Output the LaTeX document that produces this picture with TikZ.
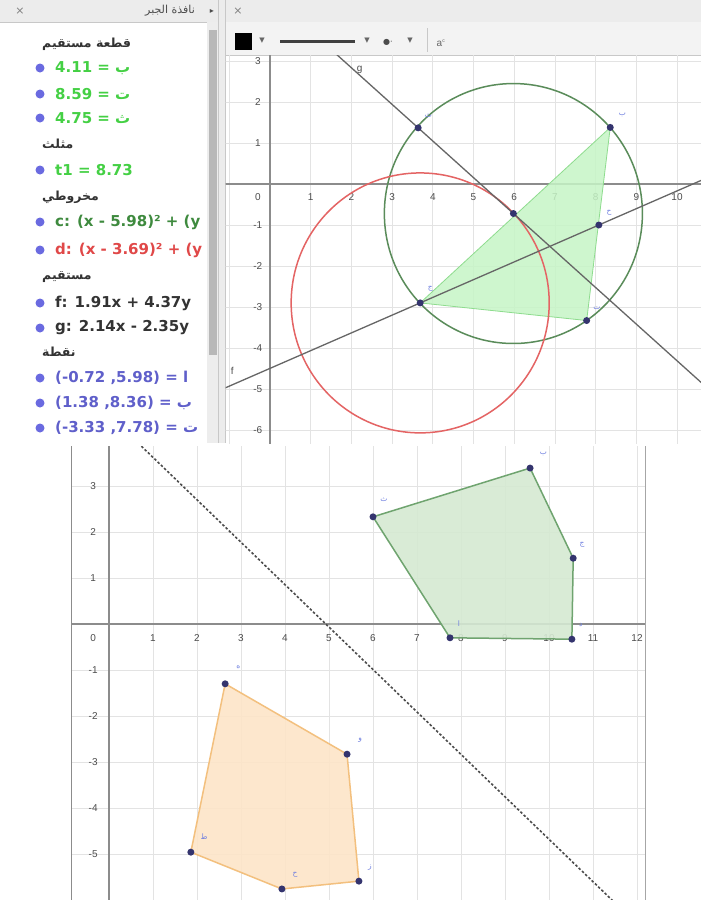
\documentclass[tikz,border=0pt]{standalone}
\usepackage{fontspec}
\setmainfont{Liberation Sans}
\newfontfamily\arabicfont[Script=Arabic]{DejaVu Sans}
\newfontfamily\symfont{DejaVu Sans}
\newfontfamily\itemfont{DejaVu Sans}
\TeXXeTstate=1
\usetikzlibrary{calc}
\definecolor{hdr}{HTML}{ECECEC}
\definecolor{toolbarc}{HTML}{F3F3F3}
\definecolor{panelline}{HTML}{C8C8C8}
\definecolor{ggpt}{HTML}{34346E}
\definecolor{bulletc}{HTML}{6A6AE0}
\definecolor{seggreen}{HTML}{44D044}
\definecolor{cgreen}{HTML}{3E8A3E}
\definecolor{dred}{HTML}{E04848}
\definecolor{ptblue}{HTML}{5060D8}
\definecolor{gridc}{HTML}{E3E3E3}
\definecolor{axisc}{HTML}{8C8C8C}
\definecolor{circgreen}{HTML}{5A8C5A}
\definecolor{circred}{HTML}{E46464}
\definecolor{trifill}{HTML}{C6F5C6}
\definecolor{triedge}{HTML}{8EDC8E}
\definecolor{polyg}{HTML}{D5E9D2}
\definecolor{polygedge}{HTML}{6FA46F}
\definecolor{polyo}{HTML}{FDE5C8}
\definecolor{polyoedge}{HTML}{F3C07E}
\definecolor{lblblue}{HTML}{7080E0}
\tikzset{
 itemtxt/.style={anchor=west, font=\itemfont\bfseries\fontsize{15}{17}\selectfont, inner sep=0pt},
 headtxt/.style={anchor=west, font=\arabicfont\bfseries\fontsize{12.5}{14}\selectfont, inner sep=0pt, text=black!80},
 bul/.style={circle, fill=bulletc, minimum size=9pt, inner sep=0pt},
 ticklab/.style={font=\fontsize{10}{12}\selectfont, text=black!70, inner sep=0pt},
 ptdot/.style={circle, fill=ggpt, minimum size=7pt, inner sep=0pt},
 ptlab/.style={font=\arabicfont\fontsize{7.5}{8}\selectfont, text=lblblue, inner sep=0pt},
 axisline/.style={axisc, line width=1.4pt},
 gridline/.style={gridc, line width=0.8pt},
 glinest/.style={black!60, line width=1.3pt},
}
\begin{document}
\begin{tikzpicture}[x=1pt,y=-1pt]
\useasboundingbox (0,0) rectangle (701,900);
\fill[white] (0,0) rectangle (701,900);
% ===== top screenshot frame =====
\fill[hdr] (0,0) rectangle (701,22);
\draw[panelline] (0,22) -- (701,22);
\fill[toolbarc] (225,22) rectangle (701,55);
\draw[panelline] (225,55) -- (701,55);
\fill[hdr] (218,0) rectangle (225,443);
\draw[panelline] (218,0) -- (218,443);
\draw[panelline] (225,0) -- (225,443);
\fill[black!7] (207,22) rectangle (218,443);
\fill[black!28] (208.5,30) rectangle (216.5,355);
\node[font=\symfont\fontsize{11}{12}\selectfont, text=black!50] (closeA) at (20,11) {×};
\node[font=\arabicfont\fontsize{11}{12}\selectfont, text=black!70] (title) at (170,11) {\beginR نافذة الجبر\endR};
\node[font=\symfont\fontsize{8}{9}\selectfont, text=black!70] (tri) at (212,11) {▸};
\node[font=\symfont\fontsize{11}{12}\selectfont, text=black!50] (closeB) at (238,11) {×};
% toolbar
\node[fill=black, minimum size=17pt, inner sep=0pt] (colorbox) at (243,41) {};
\node[font=\symfont\fontsize{7}{8}\selectfont, text=black!60] (ar1) at (262,41) {▼};
\draw[line width=3pt, black!75] (280,41) -- (355,41);
\node[font=\symfont\fontsize{7}{8}\selectfont, text=black!60] (ar2) at (367,41) {▼};
\node[font=\symfont\fontsize{8}{9}\selectfont, text=black!70] (ptstyle) at (388,42) {●·};
\node[font=\symfont\fontsize{7}{8}\selectfont, text=black!60] (ar3) at (410,41) {▼};
\draw[panelline] (427,28) -- (427,52);
\node[font=\fontsize{10}{12}\selectfont, text=black!60] (lbl) at (441,43) {a\textsuperscript{\tiny c}};
% ===== algebra view =====
\begin{scope}
\clip (0,22) rectangle (207,443);
\node[headtxt] (h1) at (42,44) {\beginR قطعة مستقيم\endR};
\node[bul] (b1) at (40,68) {};
\node[itemtxt, text=seggreen] (i1) at (55,68) {4.11 = {\arabicfont ب}};
\node[bul] (b2) at (40,94) {};
\node[itemtxt, text=seggreen] (i2) at (55,94) {8.59 = {\arabicfont ت}};
\node[bul] (b3) at (40,118) {};
\node[itemtxt, text=seggreen] (i3) at (55,118) {4.75 = {\arabicfont ث}};
\node[headtxt] (h2) at (42,144) {\beginR مثلث\endR};
\node[bul] (b4) at (40,170) {};
\node[itemtxt, text=seggreen] (i4) at (55,170) {t1 = 8.73};
\node[headtxt] (h3) at (42,197) {\beginR مخروطي\endR};
\node[bul] (b5) at (40,222) {};
\node[itemtxt, text=cgreen] (i5) at (55,222) {c: (x - 5.98)² + (y};
\node[bul] (b6) at (40,250) {};
\node[itemtxt, text=dred] (i6) at (55,250) {d: (x - 3.69)² + (y};
\node[headtxt] (h4) at (42,277) {\beginR مستقيم\endR};
\node[bul] (b7) at (40,303) {};
\node[itemtxt, text=black!80] (i7) at (55,303) {f: 1.91x + 4.37y};
\node[bul] (b8) at (40,328) {};
\node[itemtxt, text=black!80] (i8) at (55,328) {g: 2.14x - 2.35y};
\node[headtxt] (h5) at (42,352) {\beginR نقطة\endR};
\node[bul] (b9) at (40,378) {};
\node[itemtxt, text=bulletc!90!black] (i9) at (55,378) {(-0.72 ,5.98) = {\arabicfont ا}};
\node[bul] (b10) at (40,403) {};
\node[itemtxt, text=bulletc!90!black] (i10) at (55,403) {(1.38 ,8.36) = {\arabicfont ب}};
\node[bul] (b11) at (40,428) {};
\node[itemtxt, text=bulletc!90!black] (i11) at (55,428) {(-3.33 ,7.78) = {\arabicfont ت}};
\end{scope}
% ===== top graphics view =====
\begin{scope}
\clip (225.5,55.5) rectangle (701,443);
\begin{scope}[x=40.7pt, y=41pt, shift={(270pt,-184pt)}]
\draw[gridline, step=1] (-2,-7) grid (11,4);
\draw[axisline] (-2,0) -- (11,0);
\draw[axisline] (0,-7) -- (0,4);
\node[ticklab] (x0) at (-0.3,-0.32) {0};
\foreach \k in {1,...,10} { \node[ticklab] (xt\k) at (\k,-0.32) {\k}; }
\foreach \k in {1,2,3} { \node[ticklab] (yt\k) at (-0.3,\k) {\k}; }
\foreach \k in {1,...,6} { \node[ticklab] (ytm\k) at (-0.3,-\k) {-\k}; }
% points
\coordinate (P1) at (3.64,1.37);
\coordinate (P2) at (8.36,1.38);
\coordinate (P3) at (5.98,-0.72);
\coordinate (P4) at (8.08,-1.0);
\coordinate (P5) at (3.69,-2.90);
\coordinate (P6) at (7.78,-3.33);
\fill[trifill, opacity=0.85] (P2) -- (P5) -- (P6) -- cycle;
\draw[triedge, line width=0.8pt] (P2) -- (P5) -- (P6) -- cycle;
\draw[circgreen, line width=1.5pt] (P3) circle (3.17);
\draw[circred, line width=1.5pt] (P5) circle (3.17);
\draw[glinest] ($(P1)!-2!(P3)$) -- ($(P1)!5!(P3)$);
\draw[glinest] ($(P5)!-2!(P4)$) -- ($(P5)!3!(P4)$);
\foreach \p in {P1,P2,P3,P4,P5,P6} { \node[ptdot] (d\p) at (\p) {}; }
\node[ptlab] (l1) at ($(P1)+(0.25,0.3)$) {ث};
\node[ptlab] (l2) at ($(P2)+(0.3,0.3)$) {ب};
\node[ptlab] (l4) at ($(P4)+(0.25,0.3)$) {ح};
\node[ptlab] (l5) at ($(P5)+(0.25,0.35)$) {ج};
\node[ptlab] (l6) at ($(P6)+(0.25,0.3)$) {ت};
\node[font=\fontsize{10}{12}\selectfont, text=black!70] (gname) at (2.2,2.78) {g};
\node[font=\fontsize{10}{12}\selectfont, text=black!70] (fname) at (-0.93,-4.55) {f};
\end{scope}
\end{scope}
% ===== bottom graphics view =====
\begin{scope}
\clip (71,446) rectangle (645,900);
\fill[white] (71,446) rectangle (645,900);
\begin{scope}[x=44pt, y=46pt, shift={(109pt,-624pt)}]
\draw[gridline, step=1] (-1,-7) grid (13,4);
\draw[axisline] (-1,0) -- (13,0);
\draw[axisline] (0,-7) -- (0,4);
\node[ticklab] (bx0) at (-0.36,-0.3) {0};
\foreach \k in {1,...,12} { \node[ticklab] (bxt\k) at (\k,-0.3) {\k}; }
\foreach \k in {1,2,3} { \node[ticklab] (byt\k) at (-0.36,\k) {\k}; }
\foreach \k in {1,...,5} { \node[ticklab] (bytm\k) at (-0.36,-\k) {-\k}; }
% green polygon
\coordinate (G1) at (6.0,2.33);
\coordinate (G2) at (9.57,3.39);
\coordinate (G3) at (10.55,1.43);
\coordinate (G4) at (10.52,-0.33);
\coordinate (G5) at (7.75,-0.30);
\fill[polyg, opacity=0.9] (G1) -- (G2) -- (G3) -- (G4) -- (G5) -- cycle;
\draw[polygedge, line width=1.5pt] (G1) -- (G2) -- (G3) -- (G4) -- (G5) -- cycle;
% orange polygon
\coordinate (O1) at (2.64,-1.30);
\coordinate (O2) at (5.41,-2.83);
\coordinate (O3) at (5.68,-5.59);
\coordinate (O4) at (3.93,-5.76);
\coordinate (O5) at (1.86,-4.96);
\fill[polyo, opacity=0.9] (O1) -- (O2) -- (O3) -- (O4) -- (O5) -- cycle;
\draw[polyoedge, line width=1.5pt] (O1) -- (O2) -- (O3) -- (O4) -- (O5) -- cycle;
% dashed line
\coordinate (D1) at (0.59,4.0);
\coordinate (D2) at (11.54,-6.1);
\draw[black!70, line width=1.6pt, dash pattern=on 2.5pt off 2pt] (D1) -- (D2);
\foreach \p in {G1,G2,G3,G4,G5,O1,O2,O3,O4,O5} { \node[ptdot] (d\p) at (\p) {}; }
\node[ptlab] (lg1) at ($(G1)+(0.25,0.38)$) {ث};
\node[ptlab] (lg2) at ($(G2)+(0.3,0.3)$) {ب};
\node[ptlab] (lg3) at ($(G3)+(0.2,0.3)$) {ج};
\node[ptlab] (lg4) at ($(G4)+(0.2,0.3)$) {د};
\node[ptlab] (lg5) at ($(G5)+(0.2,0.3)$) {ا};
\node[ptlab] (lo1) at ($(O1)+(0.3,0.35)$) {ه};
\node[ptlab] (lo2) at ($(O2)+(0.3,0.3)$) {و};
\node[ptlab] (lo3) at ($(O3)+(0.25,0.3)$) {ز};
\node[ptlab] (lo4) at ($(O4)+(0.3,0.3)$) {ح};
\node[ptlab] (lo5) at ($(O5)+(0.3,0.33)$) {ط};
\end{scope}
\end{scope}
\draw[black!45, line width=1pt] (71,446) -- (71,900);
\draw[black!35, line width=1pt] (645,446) -- (645,900);
\end{tikzpicture}
\end{document}
